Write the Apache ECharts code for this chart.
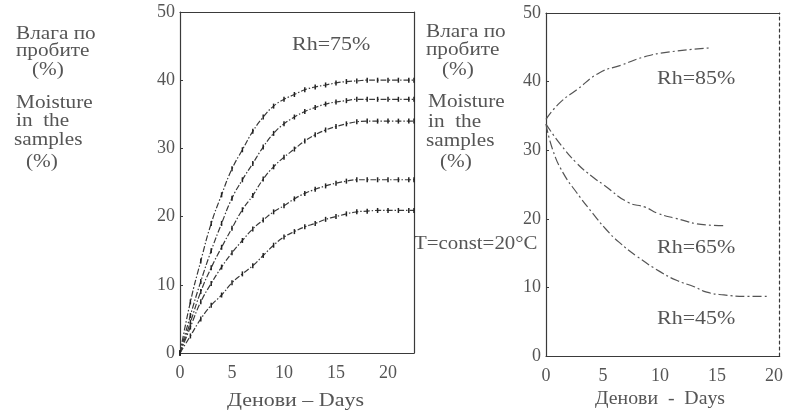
<!DOCTYPE html>
<html>
<head>
<meta charset="utf-8">
<script src="https://cdn.jsdelivr.net/npm/echarts@6/dist/echarts.min.js"></script>
<style>
  html, body { margin: 0; padding: 0; background: #fff; }
  #main { width: 786px; height: 410px; }
</style>
</head>
<body>
<div id="main"></div>
<script>
// left panel, Rh=75%: one value per day
var leftDays = [0, 1, 2, 3, 4, 5, 6, 7, 8, 9, 10, 11, 12, 13, 14, 15, 16, 17, 18, 19, 20, 21, 22, 22.5];
var rh75a = [0, 7.5, 13.5, 19, 23.2, 27, 29.8, 32.5, 34.6, 36.2, 37.2, 37.9, 38.6, 39, 39.3, 39.6, 39.8, 39.9, 40, 40, 40, 40, 40, 40];
var rh75b = [0, 5.5, 10.5, 15, 19, 22.7, 25.4, 27.8, 30.2, 32.2, 33.6, 34.6, 35.4, 36, 36.5, 36.8, 37, 37.2, 37.2, 37.2, 37.2, 37.2, 37.2, 37.2];
var rh75c = [0, 4.5, 9, 12.5, 15.5, 18.3, 21, 23.1, 25.5, 27.3, 28.7, 29.9, 31.1, 32, 32.7, 33.2, 33.6, 33.9, 34, 34, 34, 34, 34, 34];
var rh75d = [0, 3.8, 7.5, 10.2, 12.6, 14.7, 16.5, 18.2, 19.5, 20.7, 21.6, 22.6, 23.4, 24, 24.5, 24.9, 25.2, 25.4, 25.4, 25.4, 25.4, 25.4, 25.4, 25.4];
var rh75e = [0, 2.5, 5, 7, 8.5, 10.3, 11.6, 12.8, 14.3, 15.8, 17, 17.8, 18.5, 19, 19.6, 20, 20.4, 20.7, 20.8, 20.9, 20.9, 20.9, 20.9, 20.9];

// right panel: [day, moisture]
var rh85 = [[0, 34.5], [1.2, 36.9], [2.7, 38.8], [4.7, 41.3], [6.6, 42.4], [8.6, 43.6], [10.7, 44.3], [14.3, 44.9]];
var rh65 = [[0, 33.8], [1.2, 31.0], [2.7, 28.1], [4.1, 26.1], [5.1, 24.9], [7.2, 22.4], [8.7, 21.7], [9.8, 20.8], [11.3, 20.1], [14.1, 19.1], [15.6, 19.0]];
var rh45 = [[0, 33.8], [0.6, 30.0], [1.5, 26.7], [2.7, 23.8], [4.1, 20.8], [5.3, 18.4], [6.4, 16.6], [8, 14.5], [10, 12.3], [11.5, 11.0], [13, 10.1], [14.1, 9.3], [15.6, 8.9], [17.6, 8.7], [19.6, 8.7]];

var dayTicks = [0, 5, 10, 15, 20];
var yTicks = [0, 10, 20, 30, 40, 50];

var ink = '#3a3a3a';
var txt = '#555';
var serif = '"Liberation Serif", "DejaVu Serif", serif';

function pairs(xs, ys) {
    return xs.map(function (x, i) { return [x, ys[i]]; });
}

function xAx(gi, max, pos, labels) {
    return {
        type: 'value', gridIndex: gi, min: 0, max: max, interval: 5, position: pos,
        axisLine: { show: true, onZero: false, lineStyle: { color: ink, width: 1.2 } },
        axisTick: { show: false },
        splitLine: { show: false },
        axisLabel: {
            show: labels, showMaxLabel: false, margin: 11,
            color: txt, fontFamily: serif, fontSize: 18,
            formatter: function (v) { return dayTicks.indexOf(v) >= 0 ? String(v) : ''; }
        }
    };
}

function yAx(gi, pos, labels, dashed) {
    return {
        type: 'value', gridIndex: gi, min: 0, max: 50, interval: 10, position: pos,
        axisLine: { show: true, onZero: false, lineStyle: { color: ink, width: 1.2, type: dashed ? [3, 3] : 'solid' } },
        axisTick: { show: labels, inside: true, length: 3, lineStyle: { color: ink } },
        splitLine: { show: false },
        axisLabel: {
            show: labels, margin: 5, color: txt, fontFamily: serif, fontSize: 18,
            formatter: function (v) { return yTicks.indexOf(v) >= 0 ? String(v) : ''; }
        }
    };
}

function leftLine(data) {
    return {
        type: 'line', xAxisIndex: 0, yAxisIndex: 0, smooth: true,
        data: pairs(leftDays, data),
        symbol: 'rect', symbolSize: [1.5, 5],
        itemStyle: { color: '#222' },
        lineStyle: { color: ink, width: 1.2, type: [6, 2, 1.5, 2] },
        silent: true
    };
}

function rightLine(data) {
    return {
        type: 'line', xAxisIndex: 2, yAxisIndex: 2, smooth: true,
        data: data, showSymbol: false,
        lineStyle: { color: '#555', width: 1.2, type: [9, 3, 2, 3] },
        silent: true
    };
}

// scanned lettering is wide, so stretch it horizontally
function label(text, x, y, stretch) {
    return {
        type: 'text', x: x, y: y, scaleX: stretch || 1.18,
        style: { text: text, font: '18px ' + serif, fill: txt, verticalAlign: 'middle' }
    };
}

var chart = echarts.init(document.getElementById('main'));
chart.setOption({
    backgroundColor: '#fff',
    animation: false,
    grid: [
        { left: 180, top: 12, width: 234, height: 341 },
        { left: 546, top: 13, width: 238, height: 343 }
    ],
    xAxis: [
        xAx(0, 22.5, 'bottom', true),
        xAx(0, 22.5, 'top', false),
        xAx(1, 20.5, 'bottom', true),
        xAx(1, 20.5, 'top', false)
    ],
    yAxis: [
        yAx(0, 'left', true, false),
        yAx(0, 'right', false, false),
        yAx(1, 'left', true, false),
        yAx(1, 'right', false, true)
    ],
    series: [
        leftLine(rh75a),
        leftLine(rh75b),
        leftLine(rh75c),
        leftLine(rh75d),
        leftLine(rh75e),
        rightLine(rh85),
        rightLine(rh65),
        rightLine(rh45)
    ],
    graphic: [
        label('Влага по', 16, 34),
        label('пробите', 16, 51),
        label('(%)', 32, 70),
        label('Moisture', 16, 103),
        label('in  the', 16, 121),
        label('samples', 14, 140),
        label('(%)', 26, 162),

        label('Влага по', 426, 32),
        label('пробите', 426, 50),
        label('(%)', 442, 70),
        label('Moisture', 428, 102),
        label('in  the', 428, 122),
        label('samples', 426, 141),
        label('(%)', 440, 162),
        label('T=const=20°C', 414, 244, 1.16),

        label('Rh=75%', 292, 45, 1.22),
        label('Rh=85%', 657, 79, 1.22),
        label('Rh=65%', 657, 248, 1.22),
        label('Rh=45%', 657, 319, 1.22),

        label('Денови – Days', 227, 401, 1.22),
        label('Денови  -  Days', 595, 399, 1.1)
    ]
});
</script>
</body>
</html>
